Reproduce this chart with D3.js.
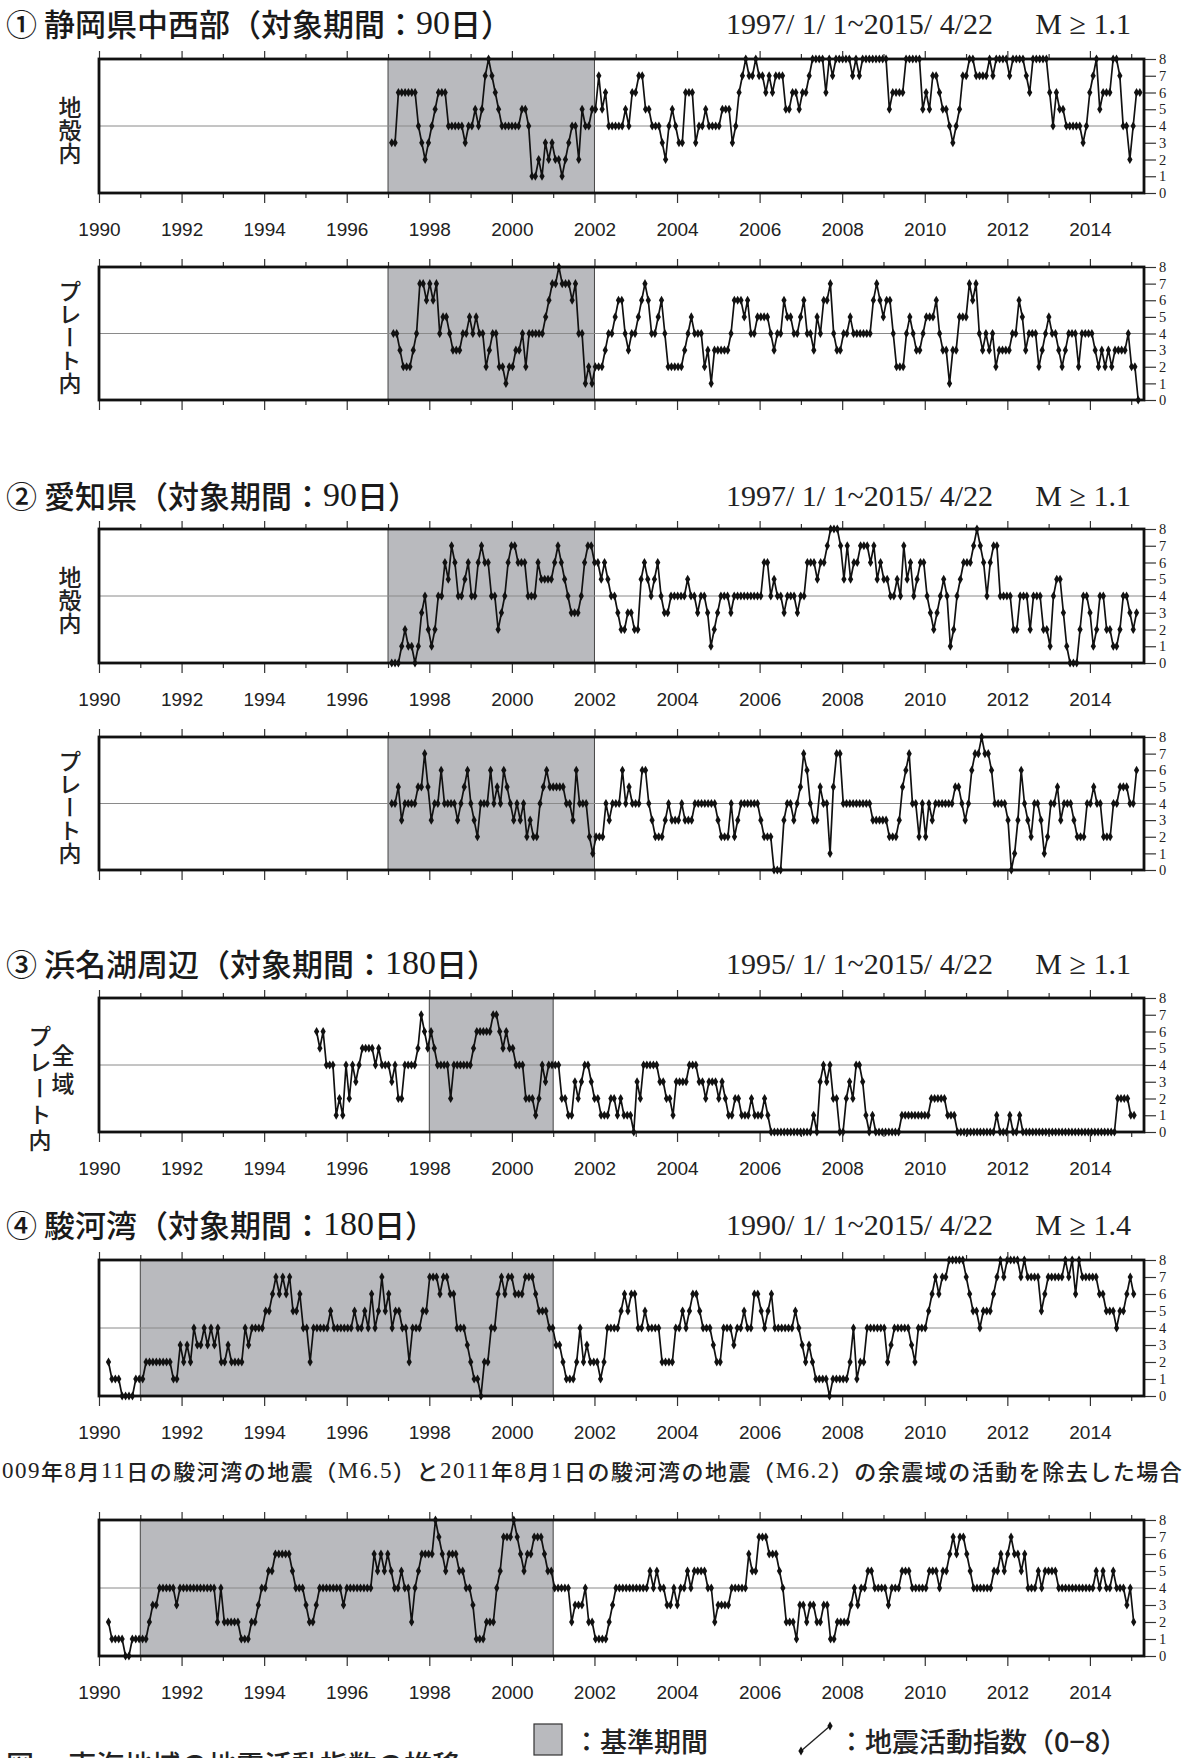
<!DOCTYPE html>
<html>
<head>
<meta charset="utf-8">
<script src="https://cdn.jsdelivr.net/npm/d3@7"></script>
<style>
  body { margin: 0; background: #fff; }
  svg { display: block; }
</style>
</head>
<body>
<svg width="1189" height="1758"></svg>
<script>
// Year axis & value axis ticks
const yearTicks = d3.range(1990, 2016);
const yearLabels = d3.range(1990, 2015, 2);
const valueTicks = d3.range(0, 9);

// Series (activity index 0-8, roughly monthly)
const shizuokaCrust = [3,3,6,6,6,6,6,6,4,3,2,3,4,5,6,6,6,4,4,4,4,4,3,4,4,5,4,5,7,8,7,6,5,4,4,4,4,4,4,5,5,4,1,1,2,1,3,2,3,2,2,1,2,3,4,4,2,5,4,4,5,5,7,5,6,4,4,4,4,4,5,4,6,6,7,7,5,5,4,4,4,3,2,4,5,4,3,3,6,6,6,3,4,4,5,4,4,4,4,5,5,5,3,4,6,7,8,7,7,
  8,7,7,6,7,6,7,7,7,5,5,6,6,5,6,6,7,8,8,8,8,6,8,7,8,8,8,8,8,7,8,7,8,8,8,8,8,8,8,8,5,6,6,6,6,8,8,8,8,8,5,6,5,7,7,6,5,5,4,3,4,5,7,7,8,8,7,7,7,7,8,7,8,8,8,8,7,8,8,8,8,7,6,8,8,8,8,8,6,4,6,5,5,4,4,4,4,4,3,4,6,7,8,5,6,6,6,8,8,7,4,4,2,4,6,6];
const shizuokaPlate = [4,4,3,2,2,2,3,4,7,7,6,7,6,7,4,5,5,4,3,3,3,4,4,5,4,5,4,4,2,3,4,4,2,2,1,2,2,3,3,4,2,4,4,4,4,4,5,6,7,7,8,7,7,7,6,7,4,4,1,2,1,2,2,2,3,4,4,5,6,6,4,3,4,4,5,6,7,6,4,4,5,6,4,2,2,2,2,2,3,4,5,4,4,4,2,3,1,3,3,3,3,3,4,6,6,6,5,6,4,4,5,5,
  5,5,4,3,4,4,6,5,5,4,4,5,6,4,4,3,5,4,6,6,7,4,3,3,4,4,5,4,4,4,4,4,4,6,7,6,5,6,6,4,2,2,2,4,5,4,3,3,4,5,5,5,6,4,3,3,1,3,3,5,5,5,7,6,7,4,3,4,3,4,2,3,3,3,3,4,4,6,5,3,4,4,4,2,3,4,5,4,4,3,2,3,4,4,4,2,4,4,4,4,3,2,3,2,3,2,3,3,3,3,4,2,2,0];
const aichiCrust = [0,0,0,1,2,1,1,0,1,3,4,2,1,2,4,4,6,5,7,6,4,4,5,6,4,4,6,7,6,6,4,4,2,3,4,6,7,7,6,6,6,4,4,4,6,5,5,5,5,6,7,6,5,4,3,3,3,4,6,7,7,6,6,5,6,5,4,4,3,2,2,3,3,2,2,5,6,5,4,5,6,4,3,3,4,4,4,4,4,5,4,4,3,4,4,3,1,2,3,4,4,4,3,4,4,4,4,4,
  4,4,4,4,6,6,4,5,4,4,3,4,4,4,3,4,4,6,6,6,5,6,6,7,8,8,8,7,5,7,5,6,6,7,7,7,6,7,5,6,5,5,4,4,5,4,7,5,6,4,5,6,6,4,3,2,3,4,5,4,1,2,4,5,6,6,6,7,8,7,6,4,6,7,7,4,4,4,4,2,2,4,4,4,2,4,4,4,2,2,1,4,5,5,3,1,0,0,0,2,4,4,3,1,2,4,4,2,2,1,1,2,4,4,3,2,3];
const aichiPlate = [4,4,5,3,4,4,4,4,5,5,7,5,3,4,4,6,4,4,4,4,3,4,5,6,4,3,2,4,4,4,6,4,5,4,6,5,4,3,4,3,4,2,3,2,2,4,5,6,5,5,5,5,5,4,4,3,6,4,4,4,2,1,2,2,2,4,3,4,4,4,6,4,5,4,4,4,6,6,4,3,2,2,2,3,4,3,3,3,4,3,3,3,4,4,4,4,4,4,4,3,2,2,2,4,2,3,4,4,4,
  4,4,4,3,2,2,2,0,0,0,3,4,4,3,4,5,7,6,4,3,3,5,4,4,1,5,7,7,4,4,4,4,4,4,4,4,4,3,3,3,3,3,2,2,2,3,5,6,7,4,4,2,4,2,4,3,4,4,4,4,4,4,5,5,4,3,4,6,7,7,8,7,7,6,4,4,4,4,3,0,1,3,6,4,3,2,4,4,3,1,2,4,4,5,3,4,4,4,3,2,2,2,4,4,5,4,4,2,2,2,4,4,5,5,5,4,4,6];
const hamanakoAll = [6,5,6,4,4,4,1,2,1,4,2,4,3,4,5,5,5,5,4,5,4,4,4,3,4,2,2,4,4,4,4,5,7,6,5,6,5,4,4,4,4,2,4,4,4,4,4,4,5,6,6,6,6,6,7,7,6,5,6,5,5,4,4,4,2,2,2,1,2,4,3,4,4,4,4,2,2,1,1,3,2,3,4,4,3,2,2,1,1,1,2,2,1,2,1,1,1,0,3,2,4,4,4,4,4,3,3,2,2,1,3,3,3,3,4,4,4,3,3,2,3,
  3,3,2,3,2,1,1,2,2,1,1,1,2,1,1,1,2,1,0,0,0,0,0,0,0,0,0,0,0,0,0,1,0,3,4,3,4,2,2,0,0,2,3,2,4,4,3,1,0,1,0,0,0,0,0,0,0,0,1,1,1,1,1,1,1,1,1,2,2,2,2,2,1,1,1,0,0,0,0,0,0,0,0,0,0,0,0,1,0,0,0,1,0,0,1,0,0,0,0,0,0,0,0,0,0,0,0,0,0,0,0,0,0,0,0,0,0,0,0,0,0,0,0,0,2,2,2,2,1,1];
const surugaAll = [2,1,1,1,0,0,0,0,1,1,1,2,2,2,2,2,2,2,2,1,1,3,2,3,2,4,3,3,4,3,4,3,4,2,2,3,2,2,2,2,4,3,4,4,4,4,5,5,6,7,6,7,6,7,5,5,6,4,4,2,4,4,4,4,4,5,4,4,4,4,4,4,5,4,4,5,4,6,4,5,7,5,6,4,5,5,4,4,2,4,4,4,5,5,7,7,7,6,7,7,6,6,4,4,4,3,2,1,1,0,2,2,4,4,6,7,6,7,7,6,6,6,7,7,7,6,5,5,5,4,4,3,3,2,1,1,1,2,4,2,3,2,2,2,1,2,4,4,4,4,5,6,5,
  6,6,4,4,5,4,4,4,4,2,2,2,2,4,4,5,4,5,6,6,5,4,4,4,3,2,2,4,4,4,3,4,4,5,4,4,6,6,5,4,5,6,4,4,4,4,4,4,5,4,3,2,3,2,1,1,1,1,0,1,1,1,1,1,2,4,1,2,2,4,4,4,4,4,4,2,3,4,4,4,4,4,3,2,4,4,4,5,6,7,6,7,7,8,8,8,8,8,7,6,5,5,4,5,5,5,6,7,8,7,8,8,8,8,7,8,7,7,7,7,5,6,7,7,7,7,7,8,7,8,6,8,7,7,7,7,7,6,6,5,5,5,4,5,5,6,7,6];
const surugaExcl = [2,1,1,1,1,0,0,1,1,1,1,1,2,3,3,4,4,4,4,4,3,4,4,4,4,4,4,4,4,4,4,4,2,4,2,2,2,2,2,1,1,1,2,2,3,4,4,5,5,6,6,6,6,6,5,4,4,4,3,2,2,3,4,4,4,4,4,4,4,3,4,4,4,4,4,4,4,4,6,5,6,5,6,5,4,4,5,4,4,2,4,5,6,6,6,6,8,7,6,5,6,6,6,5,5,4,4,3,1,1,1,2,2,2,4,5,7,7,7,8,7,6,5,6,6,7,7,7,6,5,5,4,4,4,4,4,2,3,3,3,4,2,2,1,1,1,1,2,3,4,4,4,4,4,4,
  4,4,4,4,5,4,5,4,4,3,3,4,3,4,4,5,4,5,5,5,5,4,4,2,3,3,3,3,4,4,4,4,4,6,5,5,7,7,7,6,6,6,5,4,2,2,2,1,3,3,2,3,3,2,2,3,3,1,1,2,2,2,2,3,4,3,4,4,5,5,4,4,4,4,3,4,4,4,5,5,5,4,4,4,4,4,5,5,5,4,5,5,6,7,6,7,7,6,5,4,4,4,4,4,4,5,5,6,5,6,7,6,6,5,6,4,4,4,5,4,5,5,5,5,4,4,4,4,4,4,4,4,4,4,4,5,4,5,4,4,5,4,4,4,3,4,2];

// first / last plotted date (decimal year) of each series
const seriesStart = [1997.09, 1997.13, 1997.09, 1997.09, 1995.27, 1990.23, 1990.23];
const seriesEnd   = [2015.21, 2015.17, 2015.13, 2015.13, 2015.07, 2015.06, 2015.06];
// reference ("基準期間") periods
const basePeriods = [[1997, 2002], [1997, 2002], [1997, 2002], [1997, 2002], [1998, 2001], [1991, 2001], [1991, 2001]];

const svg = d3.select("svg");
const x = d3.scaleLinear().domain([1990, 2015.31]).range([99, 1144]);

// panel layout
const panels = [
  {values: shizuokaCrust, top: 59,   bottom: 193,  years: true,  label: "地殻内"},
  {values: shizuokaPlate, top: 267,  bottom: 400,  years: false, label: "プレート内"},
  {values: aichiCrust,    top: 529,  bottom: 663,  years: true,  label: "地殻内"},
  {values: aichiPlate,    top: 737,  bottom: 870,  years: false, label: "プレート内"},
  {values: hamanakoAll,   top: 998,  bottom: 1132, years: true,  label: null},
  {values: surugaAll,     top: 1260, bottom: 1396, years: true,  label: null},
  {values: surugaExcl,    top: 1520, bottom: 1656, years: true,  label: null}
];

const jp = "'Noto Sans CJK JP', sans-serif";
const serif = "'Liberation Serif', 'DejaVu Serif', serif";

panels.forEach((p, i) => {
  const y = d3.scaleLinear().domain([0, 8]).range([p.bottom, p.top]);
  const g = svg.append("g");
  const n = p.values.length;
  const t = d3.scaleLinear().domain([0, n - 1]).range([seriesStart[i], seriesEnd[i]]);

  // base period shading
  g.append("rect")
    .attr("x", x(basePeriods[i][0]))
    .attr("y", p.top)
    .attr("width", x(basePeriods[i][1]) - x(basePeriods[i][0]))
    .attr("height", p.bottom - p.top)
    .attr("fill", "#b9babe")
    .attr("stroke", "#444")
    .attr("stroke-width", 1);

  // gray reference line at 4
  g.append("line")
    .attr("x1", x.range()[0]).attr("x2", x.range()[1])
    .attr("y1", y(4)).attr("y2", y(4))
    .attr("stroke", "#8a8a8a")
    .attr("stroke-width", 1);

  // index line
  const line = d3.line().x((d, k) => x(t(k))).y(d => y(d));
  g.append("path")
    .datum(p.values)
    .attr("d", line)
    .attr("fill", "none")
    .attr("stroke", "#111")
    .attr("stroke-width", 1.7)
    .attr("stroke-linejoin", "round");

  g.selectAll(".mk")
    .data(p.values)
    .join("path")
    .attr("class", "mk")
    .attr("d", d3.symbol(d3.symbolDiamond, 24))
    .attr("transform", (d, k) => `translate(${x(t(k))},${y(d)})`)
    .attr("fill", "#111");

  // year ticks top and bottom
  const major = yearTicks.filter(d => d % 2 === 0);
  const minor = yearTicks.filter(d => d % 2 === 1);
  const top1 = g.append("g").attr("transform", `translate(0,${p.top})`)
    .call(d3.axisTop(x).tickValues(major).tickSize(8).tickFormat(""));
  const top2 = g.append("g").attr("transform", `translate(0,${p.top})`)
    .call(d3.axisTop(x).tickValues(minor).tickSize(5).tickFormat(""));
  const bot1 = g.append("g").attr("transform", `translate(0,${p.bottom})`)
    .call(d3.axisBottom(x).tickValues(major).tickSize(10)
      .tickFormat(p.years ? d3.format("d") : ""));
  const bot2 = g.append("g").attr("transform", `translate(0,${p.bottom})`)
    .call(d3.axisBottom(x).tickValues(minor).tickSize(5).tickFormat(""));
  [top1, top2, bot1, bot2].forEach(a => {
    a.select(".domain").remove();
    a.selectAll("line").attr("stroke", "#333").attr("stroke-width", 1.2);
  });
  bot1.selectAll("text")
    .attr("y", 30)
    .attr("fill", "#222")
    .style("font-family", "'Liberation Sans', Arial, sans-serif")
    .style("font-size", "19px");

  // right value axis
  const ra = g.append("g").attr("transform", `translate(${x.range()[1]},0)`)
    .call(d3.axisRight(y).tickValues(valueTicks).tickSize(12).tickPadding(3));
  ra.select(".domain").remove();
  ra.selectAll("line").attr("stroke", "#333").attr("stroke-width", 1.2);
  ra.selectAll("text")
    .attr("fill", "#222")
    .style("font-family", serif)
    .style("font-size", "14.5px");

  // frame
  g.append("rect")
    .attr("x", x.range()[0]).attr("y", p.top)
    .attr("width", x.range()[1] - x.range()[0])
    .attr("height", p.bottom - p.top)
    .attr("fill", "none")
    .attr("stroke", "#111")
    .attr("stroke-width", 2.8);

  // vertical left label
  if (p.label) {
    g.append("text")
      .attr("x", 70)
      .attr("y", (p.top + p.bottom) / 2 + 4)
      .attr("text-anchor", "middle")
      .style("writing-mode", "vertical-rl")
      .style("font-family", jp)
      .style("font-size", "23px")
      .style("font-weight", 500)
      .attr("fill", "#222")
      .text(p.label);
  }
});

// special labels for panel 3 (浜名湖)
svg.append("text")
  .attr("x", 40).attr("y", 1090)
  .attr("text-anchor", "middle")
  .style("writing-mode", "vertical-rl")
  .style("font-family", jp).style("font-size", "23px").style("font-weight", 500)
  .style("letter-spacing", "3px")
  .attr("fill", "#222")
  .text("プレート内");
svg.append("text")
  .attr("x", 63).attr("y", 1072)
  .attr("text-anchor", "middle")
  .style("writing-mode", "vertical-rl")
  .style("font-family", jp).style("font-size", "23px").style("font-weight", 500)
  .style("letter-spacing", "5px")
  .attr("fill", "#222")
  .text("全域");

// section titles
const titles = [
  {num: "①", name: "静岡県中西部（対象期間：", days: "90", range: "1997/ 1/ 1~2015/ 4/22", mag: "M ≥ 1.1", y: 22},
  {num: "②", name: "愛知県（対象期間：", days: "90", range: "1997/ 1/ 1~2015/ 4/22", mag: "M ≥ 1.1", y: 494},
  {num: "③", name: "浜名湖周辺（対象期間：", days: "180", range: "1995/ 1/ 1~2015/ 4/22", mag: "M ≥ 1.1", y: 962},
  {num: "④", name: "駿河湾（対象期間：", days: "180", range: "1990/ 1/ 1~2015/ 4/22", mag: "M ≥ 1.4", y: 1223}
];
titles.forEach(tt => {
  const tx = svg.append("text")
    .attr("x", 6).attr("y", tt.y)
    .attr("dominant-baseline", "central")
    .style("font-family", jp).style("font-size", "31px").style("font-weight", 500)
    .attr("fill", "#1a1a1a");
  tx.append("tspan").text(tt.num + "  ");
  tx.append("tspan").text(tt.name);
  tx.append("tspan").style("font-family", serif).style("font-size", "34px").text(tt.days);
  tx.append("tspan").text("日）");

  svg.append("text")
    .attr("x", 993).attr("y", tt.y + 1)
    .attr("text-anchor", "end")
    .attr("dominant-baseline", "central")
    .style("font-family", serif).style("font-size", "30px")
    .attr("fill", "#222")
    .text(tt.range);
  svg.append("text")
    .attr("x", 1131).attr("y", tt.y + 1)
    .attr("text-anchor", "end")
    .attr("dominant-baseline", "central")
    .style("font-family", serif).style("font-size", "30px")
    .attr("fill", "#222")
    .text(tt.mag);
});

// note between the two Suruga panels
const noteParts = [
  ["2009", true], ["年", false], ["8", true], ["月", false], ["11", true], ["日の駿河湾の地震（", false],
  ["M6.5", true], ["）と", false], ["2011", true], ["年", false], ["8", true], ["月", false], ["1", true],
  ["日の駿河湾の地震（", false], ["M6.2", true], ["）の余震域の活動を除去した場合", false]
];
svg.append("text")
  .attr("x", -11).attr("y", 1470)
  .attr("dominant-baseline", "central")
  .style("font-family", jp).style("font-size", "22px").style("font-weight", 500)
  .style("letter-spacing", "1.5px")
  .attr("fill", "#222")
  .selectAll("tspan")
  .data(noteParts)
  .join("tspan")
  .style("font-family", d => d[1] ? serif : null)
  .style("font-size", d => d[1] ? "23px" : null)
  .style("font-weight", d => d[1] ? 400 : null)
  .text(d => d[0]);

// legend
svg.append("rect")
  .attr("x", 534).attr("y", 1724).attr("width", 28).attr("height", 31)
  .attr("fill", "#b9babe").attr("stroke", "#333").attr("stroke-width", 1.2);
svg.append("text")
  .attr("x", 573).attr("y", 1740)
  .attr("dominant-baseline", "central")
  .style("font-family", jp).style("font-size", "27px").style("font-weight", 500)
  .attr("fill", "#222")
  .text("：基準期間");
const legLine = [[801, 1751], [830, 1726]];
svg.append("line")
  .attr("x1", legLine[0][0]).attr("y1", legLine[0][1])
  .attr("x2", legLine[1][0]).attr("y2", legLine[1][1])
  .attr("stroke", "#222").attr("stroke-width", 1.4);
svg.selectAll(".legmk").data(legLine).join("path")
  .attr("d", d3.symbol(d3.symbolDiamond, 24))
  .attr("transform", d => `translate(${d[0]},${d[1]})`)
  .attr("fill", "#111");
svg.append("text")
  .attr("x", 838).attr("y", 1740)
  .attr("dominant-baseline", "central")
  .style("font-family", jp).style("font-size", "27px").style("font-weight", 500)
  .attr("fill", "#222")
  .text("：地震活動指数（0−8）");

// caption (cut at the bottom edge)
svg.append("text")
  .attr("x", 6).attr("y", 1776)
  .style("font-family", jp).style("font-size", "28px").style("font-weight", 500)
  .attr("fill", "#222")
  .text("図　  東海地域の地震活動指数の推移");
</script>
</body>
</html>
